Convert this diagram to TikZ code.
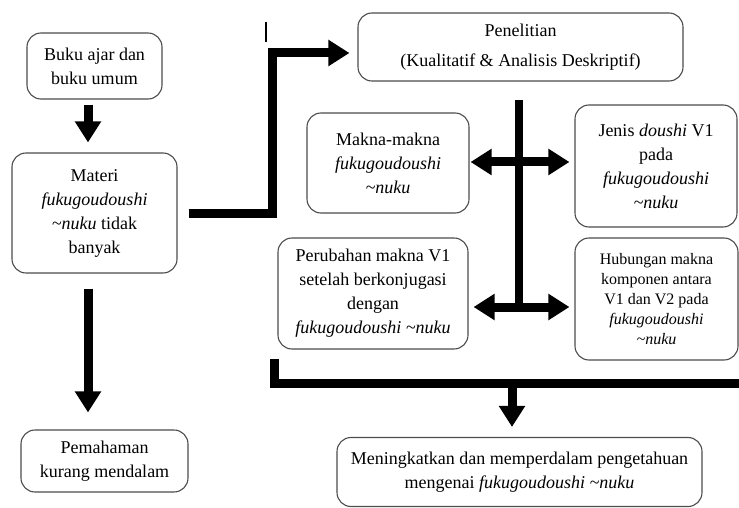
\documentclass[tikz,border=0pt]{standalone}
\usepackage{fontspec}
\setmainfont{Liberation Serif}
\usetikzlibrary{arrows.meta}
\tikzset{
  box/.style={draw=black!70, line width=1.1pt, rounded corners=14pt, align=center, inner sep=0pt,
    font=\fontsize{18}{24}\selectfont},
  smallbox/.style={box, font=\fontsize{16}{20}\selectfont},
  thickline/.style={line width=9pt, line join=miter},
  arrow/.style={line width=9pt, -{Triangle[length=21pt,width=25pt]}},
}
\newcommand{\tl}{\textasciitilde}
\begin{document}
\begin{tikzpicture}[x=1pt,y=-1pt]
\useasboundingbox (0,0) rectangle (739,508);
% nodes
\node[box, minimum width=135pt, minimum height=66pt] (buku) at (94.5,66) {Buku ajar dan\\ buku umum};
\node[box, minimum width=165pt, minimum height=120pt] (materi) at (94.5,213) {Materi\\ \textit{fukugoudoushi}\\ \textit{\tl nuku} tidak\\ banyak};
\node[box, minimum width=167pt, minimum height=62pt] (pemahaman) at (104.5,461) {Pemahaman\\ kurang mendalam};
\node[box, minimum width=325pt, minimum height=68pt, font=\fontsize{18}{30}\selectfont] (penelitian) at (520.5,47) {Penelitian\\ (Kualitatif \& Analisis Deskriptif)};
\node[box, minimum width=162pt, minimum height=100pt] (makna) at (388,163) {Makna-makna\\ \textit{fukugoudoushi}\\ \textit{\tl nuku}};
\node[box, minimum width=162pt, minimum height=122pt] (jenis) at (656,166) {Jenis \textit{doushi} V1\\ pada\\ \textit{fukugoudoushi}\\ \textit{\tl nuku}};
\node[box, minimum width=190pt, minimum height=111pt] (perubahan) at (373,293.5) {Perubahan makna V1\\ setelah berkonjugasi\\ dengan\\ \textit{fukugoudoushi \tl nuku}};
\node[smallbox, minimum width=163pt, minimum height=122pt] (hubungan) at (656.5,299) {Hubungan makna\\ komponen antara\\ V1 dan V2 pada\\ \textit{fukugoudoushi}\\ \textit{\tl nuku}};
\node[box, minimum width=365pt, minimum height=69pt] (meningkatkan) at (519.5,472) {Meningkatkan dan memperdalam pengetahuan\\ mengenai \textit{fukugoudoushi \tl nuku}};
% left column arrows
\draw[arrow] ([xshift=-6.5pt,yshift=-5pt]buku.south) -- ([xshift=-6.5pt,yshift=10pt]materi.north);
\draw[arrow] ([xshift=-6.5pt,yshift=-15pt]materi.south) -- ([xshift=-16.5pt,yshift=17pt]pemahaman.north);
% materi to penelitian
\coordinate (c1) at (272,53);
\draw[arrow, line join=miter] ([xshift=11pt]materi.east) -| (c1) -- ([xshift=-8pt,yshift=-6pt]penelitian.west);
\draw[line width=1.2pt] (266,22) -- (266,42);
% central spine
\coordinate (j1) at (519,162);
\coordinate (j2) at (519,307);
\draw[line width=8.5pt] ([xshift=-1.5pt,yshift=-18pt]penelitian.south) -- (j2);
\draw[arrow] (j1) -- ([xshift=1pt]j1 -| makna.east);
\draw[arrow] (j1) -- ([xshift=-5pt]j1 -| jenis.west);
\draw[arrow] (j2) -- ([xshift=5pt]j2 -| perubahan.east);
\draw[arrow] (j2) -- ([xshift=-5pt]j2 -| hubungan.west);
% bottom bracket
\coordinate (bend) at (739,383);
\coordinate (m) at (512,383);
\draw[thickline] ([xshift=-99pt,yshift=-9pt]perubahan.south) |- (bend);
\draw[arrow] (m) -- ([xshift=-7.5pt,yshift=10pt]meningkatkan.north);
\end{tikzpicture}
\end{document}
